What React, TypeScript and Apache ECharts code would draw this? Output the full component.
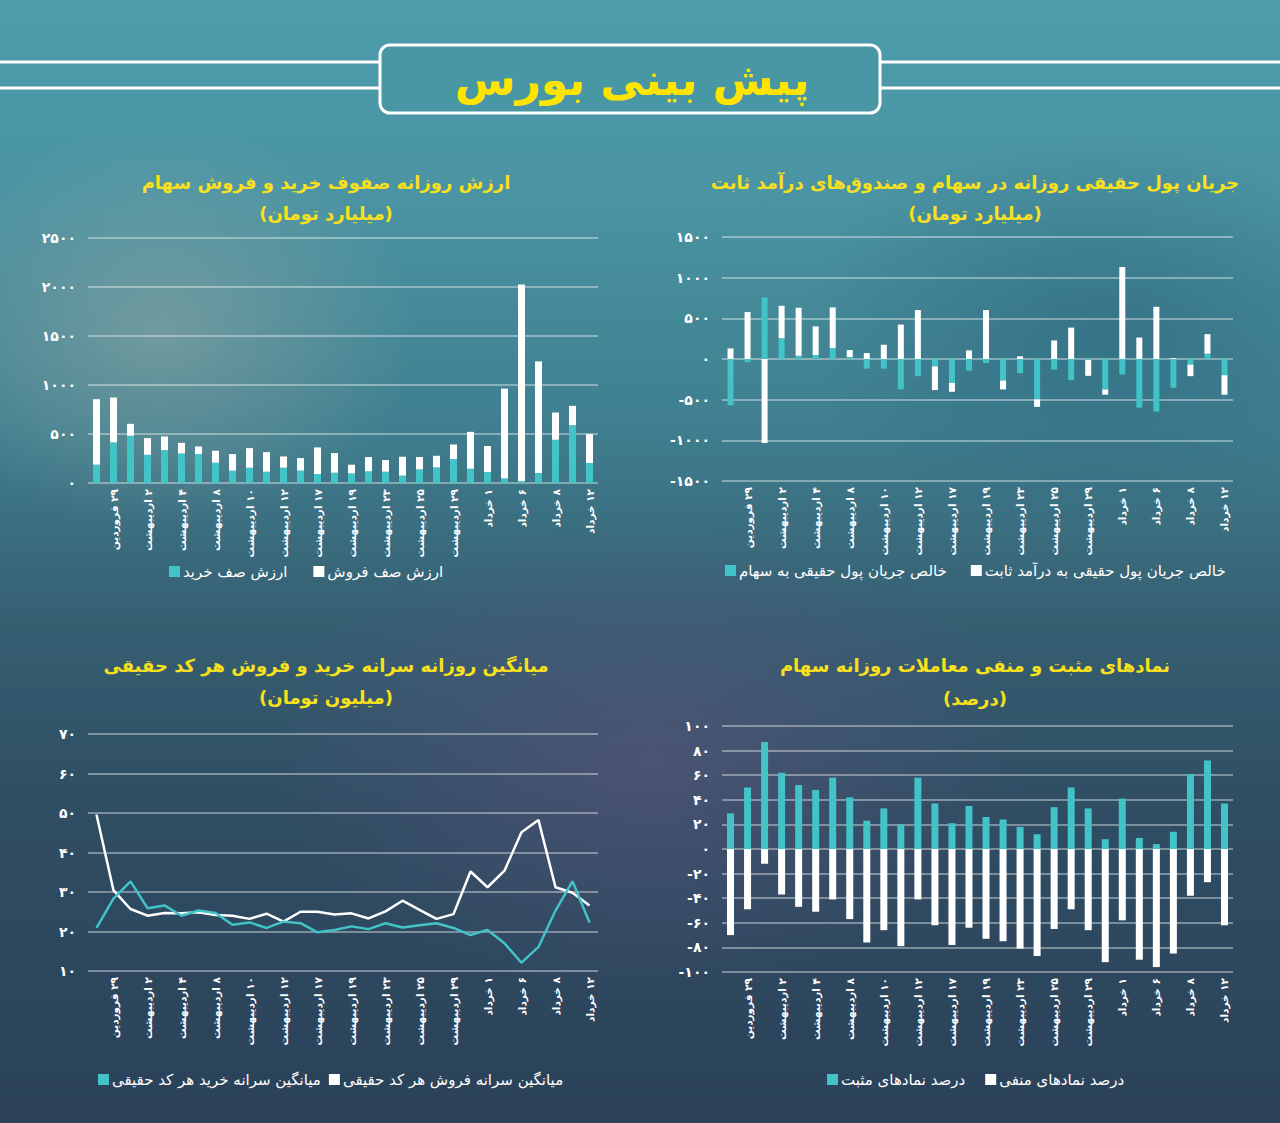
import React, { useEffect, useRef } from "react";
import * as echarts from "echarts";

// ---------- DATA ----------
const categories = [
  "۲۷ فروردین", "۲۹ فروردین", "۱ اردیبهشت", "۲ اردیبهشت", "۳ اردیبهشت",
  "۴ اردیبهشت", "۵ اردیبهشت", "۸ اردیبهشت", "۹ اردیبهشت", "۱۰ اردیبهشت",
  "۱۱ اردیبهشت", "۱۲ اردیبهشت", "۱۵ اردیبهشت", "۱۷ اردیبهشت", "۱۸ اردیبهشت",
  "۱۹ اردیبهشت", "۲۲ اردیبهشت", "۲۳ اردیبهشت", "۲۴ اردیبهشت", "۲۵ اردیبهشت",
  "۲۶ اردیبهشت", "۲۹ اردیبهشت", "۳۰ اردیبهشت", "۱ خرداد", "۵ خرداد",
  "۶ خرداد", "۷ خرداد", "۸ خرداد", "۹ خرداد", "۱۲ خرداد",
];

// chart 1: daily buy / sell queue value (billion toman)
const buyQueue = [187, 414, 482, 288, 336, 302, 295, 207, 126, 156, 115, 156, 126, 92, 105, 98, 119, 115, 75, 139, 159, 244, 146, 112, 47, 17, 102, 441, 590, 204];
const sellQueue = [668, 458, 122, 170, 139, 108, 78, 122, 169, 200, 200, 115, 128, 271, 200, 89, 146, 119, 193, 126, 119, 149, 376, 265, 916, 2008, 1139, 278, 197, 295];

// chart 2: net real money flow (billion toman)
const stockFlow = [-570, -40, 756, 256, 40, 49, 134, 24, -118, -118, -374, -211, -90, -293, -142, -49, -264, -175, -496, -130, -260, -12, -374, -190, -598, -646, -354, -69, 65, -199];
const fixedIncomeFlow = [130, 577, -1033, 398, 590, 353, 500, 86, 73, 175, 423, 602, -292, -110, 106, 602, -110, 33, -93, 228, 386, -195, -65, 1130, 264, 642, 10, -142, 240, -240];

// chart 3: average per-capita per real code (million toman)
const sellPerCapita = [49.6, 30.4, 25.7, 24.0, 24.7, 24.6, 24.9, 24.2, 24.0, 23.2, 24.5, 22.5, 25.0, 25.0, 24.3, 24.6, 23.3, 25.1, 27.8, 25.5, 23.2, 24.4, 35.2, 31.2, 35.4, 45.1, 48.2, 31.2, 29.8, 26.6];
const buyPerCapita = [20.9, 28.3, 32.7, 25.9, 26.6, 24.0, 25.3, 24.7, 21.7, 22.3, 20.9, 22.5, 22.1, 19.8, 20.4, 21.3, 20.6, 22.1, 21.0, 21.6, 22.1, 20.9, 19.1, 20.4, 17.0, 12.1, 16.1, 25.3, 32.7, 22.3];

// chart 4: percentage of positive / negative symbols
const positivePct = [29, 50, 87, 62, 52, 48, 58, 42, 23, 33, 20, 58, 37, 21, 35, 26, 24, 18, 12, 34, 50, 33, 8, 41, 9, 4, 14, 61, 72, 37];
const negativePct = [-70, -49, -12, -37, -47, -51, -41, -57, -76, -66, -79, -41, -62, -78, -64, -73, -75, -81, -87, -65, -49, -66, -92, -58, -90, -96, -85, -38, -27, -62];

const mainTitle = "پیش بینی بورس";
const chartTitles = [
  ["ارزش روزانه صفوف خرید و فروش سهام", "(میلیارد تومان)"],
  ["جریان پول حقیقی روزانه در سهام و صندوق‌های درآمد ثابت", "(میلیارد تومان)"],
  ["میانگین روزانه سرانه خرید و فروش هر کد حقیقی", "(میلیون تومان)"],
  ["نمادهای مثبت و منفی معاملات روزانه سهام", "(درصد)"],
];
const seriesNames = {
  buyQueue: "ارزش صف خرید",
  sellQueue: "ارزش صف فروش",
  stock: "خالص جریان پول حقیقی به سهام",
  fixed: "خالص جریان پول حقیقی به درآمد ثابت",
  buyPC: "میانگین سرانه خرید هر کد حقیقی",
  sellPC: "میانگین سرانه فروش هر کد حقیقی",
  pos: "درصد نمادهای مثبت",
  neg: "درصد نمادهای منفی",
};

// ---------- STYLE ----------
const FONT = "DejaVu Sans";
const TEAL = "#41c3c8";
const WHITE = "#ffffff";
const YELLOW = "#f8e11c";
const GRIDLINE = "rgba(255,255,255,0.5)";
const RLM = "\u200F";
const faDigits = "۰۱۲۳۴۵۶۷۸۹";
const toFa = (v: number | string) => String(v).replace(/\d/g, (d) => faDigits[+d]);

function xAxis(gridIndex: number) {
  return {
    type: "category",
    gridIndex,
    data: categories,
    boundaryGap: true,
    axisLine: { show: false, onZero: false },
    axisTick: { show: false },
    splitLine: { show: false },
    axisLabel: {
      interval: (i: number) => i % 2 === 1,
      rotate: 90,
      margin: 6,
      color: WHITE,
      fontSize: 10.5,
      fontWeight: "bold",
      fontFamily: FONT,
      formatter: (v: string) => RLM + v,
    },
  };
}

function yAxis(gridIndex: number, min: number, max: number, interval: number) {
  return {
    type: "value",
    gridIndex,
    min,
    max,
    interval,
    axisLine: { show: false },
    axisTick: { show: false },
    splitLine: { show: true, lineStyle: { color: GRIDLINE, width: 1.5 } },
    axisLabel: {
      margin: 12,
      color: WHITE,
      fontSize: 14,
      fontWeight: "bold",
      fontFamily: FONT,
      formatter: (v: number) => toFa(v),
    },
  };
}

function legend(left: number, top: number, names: string[], gap: number) {
  return {
    left,
    top,
    orient: "horizontal",
    itemWidth: 11,
    itemHeight: 11,
    itemGap: gap,
    icon: "rect",
    data: names,
    textStyle: { color: WHITE, fontSize: 15, fontFamily: FONT, padding: [0, 0, 0, -2] },
  };
}

function titleText(x: number, y: number, text: string) {
  return {
    type: "text",
    x,
    y,
    style: {
      text,
      fill: YELLOW,
      fontSize: 18,
      fontWeight: "bold",
      fontFamily: FONT,
      align: "center",
      verticalAlign: "middle",
    },
  };
}

function buildOption() {
  return {
    animation: false,
    backgroundColor: "transparent",
    textStyle: { fontFamily: FONT },
    grid: [
      { left: 88, width: 510, top: 238, height: 245 },
      { left: 722, width: 511, top: 237, height: 244 },
      { left: 88, width: 510, top: 734, height: 237 },
      { left: 722, width: 511, top: 726, height: 246 },
    ],
    xAxis: [xAxis(0), xAxis(1), xAxis(2), xAxis(3)],
    yAxis: [
      yAxis(0, 0, 2500, 500),
      yAxis(1, -1500, 1500, 500),
      yAxis(2, 10, 70, 10),
      yAxis(3, -100, 100, 20),
    ],
    legend: [
      legend(164, 559, [seriesNames.buyQueue, seriesNames.sellQueue], 26),
      legend(720, 558, [seriesNames.stock, seriesNames.fixed], 24),
      legend(93, 1067, [seriesNames.buyPC, seriesNames.sellPC], 8),
      legend(822, 1067, [seriesNames.pos, seriesNames.neg], 20),
    ],
    series: [
      { name: seriesNames.buyQueue, type: "bar", xAxisIndex: 0, yAxisIndex: 0, stack: "q", barWidth: 7, itemStyle: { color: TEAL }, data: buyQueue },
      { name: seriesNames.sellQueue, type: "bar", xAxisIndex: 0, yAxisIndex: 0, stack: "q", barWidth: 7, itemStyle: { color: WHITE }, data: sellQueue },
      { name: seriesNames.stock, type: "bar", xAxisIndex: 1, yAxisIndex: 1, stack: "f", barWidth: 6, itemStyle: { color: TEAL }, data: stockFlow },
      { name: seriesNames.fixed, type: "bar", xAxisIndex: 1, yAxisIndex: 1, stack: "f", barWidth: 6, itemStyle: { color: WHITE }, data: fixedIncomeFlow },
      { name: seriesNames.sellPC, type: "line", xAxisIndex: 2, yAxisIndex: 2, showSymbol: false, symbol: "none", lineStyle: { color: WHITE, width: 2.5 }, itemStyle: { color: WHITE }, data: sellPerCapita },
      { name: seriesNames.buyPC, type: "line", xAxisIndex: 2, yAxisIndex: 2, showSymbol: false, symbol: "none", lineStyle: { color: TEAL, width: 2.5 }, itemStyle: { color: TEAL }, data: buyPerCapita },
      { name: seriesNames.pos, type: "bar", xAxisIndex: 3, yAxisIndex: 3, stack: "p", barWidth: 7, itemStyle: { color: TEAL }, data: positivePct },
      { name: seriesNames.neg, type: "bar", xAxisIndex: 3, yAxisIndex: 3, stack: "p", barWidth: 7, itemStyle: { color: WHITE }, data: negativePct },
    ],
    graphic: [
      { type: "line", shape: { x1: 0, y1: 62, x2: 380, y2: 62 }, style: { stroke: WHITE, lineWidth: 3 } },
      { type: "line", shape: { x1: 0, y1: 88, x2: 380, y2: 88 }, style: { stroke: WHITE, lineWidth: 3 } },
      { type: "line", shape: { x1: 880, y1: 62, x2: 1280, y2: 62 }, style: { stroke: WHITE, lineWidth: 3 } },
      { type: "line", shape: { x1: 880, y1: 88, x2: 1280, y2: 88 }, style: { stroke: WHITE, lineWidth: 3 } },
      { type: "rect", shape: { x: 380, y: 45, width: 500, height: 68, r: 10 }, style: { fill: "rgba(72,150,165,0.85)", stroke: WHITE, lineWidth: 3 } },
      {
        type: "text",
        x: 632,
        y: 79,
        style: { text: mainTitle, fill: "#ffe400", fontSize: 44, fontWeight: "bold", fontFamily: FONT, align: "center", verticalAlign: "middle" },
      },
      titleText(326, 182, chartTitles[0][0]),
      titleText(326, 213, chartTitles[0][1]),
      titleText(975, 182, chartTitles[1][0]),
      titleText(975, 213, chartTitles[1][1]),
      titleText(326, 665, chartTitles[2][0]),
      titleText(326, 697, chartTitles[2][1]),
      titleText(975, 665, chartTitles[3][0]),
      titleText(975, 698, chartTitles[3][1]),
    ],
  };
}

export default function App() {
  const ref = useRef<HTMLDivElement>(null);
  useEffect(() => {
    if (!ref.current) return;
    const chart = echarts.init(ref.current, null, { renderer: "svg" });
    chart.setOption(buildOption() as any);
    return () => chart.dispose();
  }, []);
  return (
    <div
      ref={ref}
      style={{
        position: "absolute",
        left: 0,
        top: 0,
        width: 1280,
        height: 1123,
        background:
          "radial-gradient(ellipse 260px 200px at 160px 330px, rgba(150,170,165,0.55), rgba(150,170,165,0) 100%)," +
          "radial-gradient(ellipse 380px 240px at 650px 760px, rgba(95,85,125,0.55), rgba(95,85,125,0) 100%)," +
          "radial-gradient(ellipse 300px 200px at 1100px 330px, rgba(40,95,120,0.5), rgba(40,95,120,0) 100%)," +
          "linear-gradient(180deg, #4d9dac 0%, #4a93a2 18%, #3f7f8f 38%, #365f72 55%, #2f4d63 72%, #2b4259 100%)",
      }}
    />
  );
}
